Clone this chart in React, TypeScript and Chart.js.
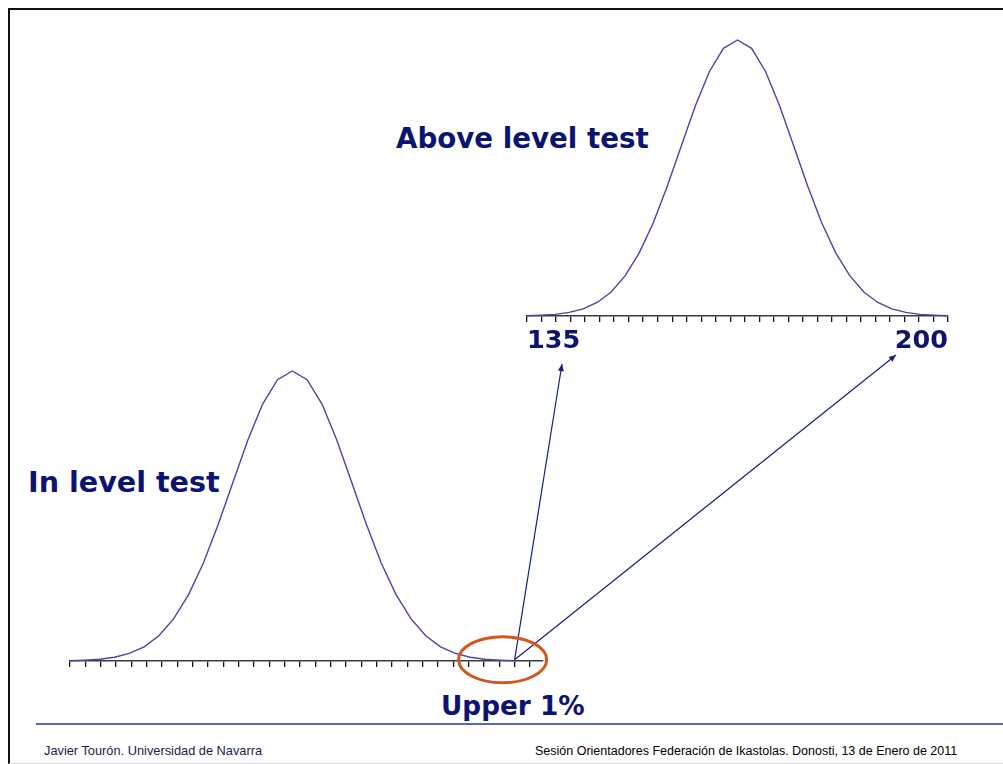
import React, { useEffect, useRef } from 'react';
import { Chart, registerables } from 'chart.js';

Chart.register(...registerables);

// ---------- data ----------
const IN_LEVEL_SCORES = [
  0, 1.93, 3.87, 5.8, 7.73, 9.67, 11.6, 13.53, 15.47, 17.4, 19.33, 21.27, 23.2, 25.13, 27.07, 29,
  30.93, 32.87, 34.8, 36.73, 38.67, 40.6, 42.53, 44.47, 46.4, 48.33, 50.27, 52.2, 54.13, 56.07, 58,
];
const IN_LEVEL_DENSITY = [
  0.1, 0.3, 0.6, 1.3, 2.6, 4.9, 8.7, 14.6, 22.9, 33.8, 47.1, 61.7, 76.2, 88.6, 97, 100,
  97, 88.6, 76.2, 61.7, 47.1, 33.8, 22.9, 14.6, 8.7, 4.9, 2.6, 1.3, 0.6, 0.3, 0.1,
];
const ABOVE_LEVEL_SCORES = [
  135, 137.17, 139.33, 141.5, 143.67, 145.83, 148, 150.17, 152.33, 154.5, 156.67, 158.83, 161, 163.17,
  165.33, 167.5, 169.67, 171.83, 174, 176.17, 178.33, 180.5, 182.67, 184.83, 187, 189.17, 191.33,
  193.5, 195.67, 197.83, 200,
];
const ABOVE_LEVEL_DENSITY = [
  0.1, 0.3, 0.6, 1.3, 2.6, 4.9, 8.7, 14.6, 22.9, 33.8, 47.1, 61.7, 76.2, 88.6, 97, 100,
  97, 88.6, 76.2, 61.7, 47.1, 33.8, 22.9, 14.6, 8.7, 4.9, 2.6, 1.3, 0.6, 0.3, 0.1,
];
const ABOVE_AXIS_RANGE = [135, 200];
const ABOVE_TICK_COUNT = 30;
const ABOVE_TICK_LABELS = ['135', '200'];
const IN_LEVEL_AXIS_RANGE = [0, 61.7];
const IN_LEVEL_TICK_STEP = 2;

const TITLE_ABOVE = 'Above level test';
const TITLE_IN = 'In level test';
const TITLE_UPPER = 'Upper 1%';
const FOOTER_LEFT = 'Javier Tourón. Universidad de Navarra';
const FOOTER_RIGHT = 'Sesión Orientadores Federación de Ikastolas. Donosti, 13 de Enero de 2011';

// ---------- styles ----------
const NAVY = '#0c1470';
const CURVE = '#4646aa';
const AXIS = '#3a3a3a';
const TICK = '#111111';
const BOLD = '"DejaVu Sans", Verdana, sans-serif';

const TOP_BOX = { left: 523, top: 36, width: 431, height: 320 };
const BOT_BOX = { left: 66, top: 367, width: 481, height: 304 };

function curveDataset(xs: number[], ys: number[]) {
  return {
    data: xs.map((x, i) => ({ x, y: ys[i] })),
    borderColor: CURVE,
    borderWidth: 1.4,
    pointRadius: 0,
    tension: 0,
    fill: false,
    clip: false as any,
  };
}

export default function App() {
  const topRef = useRef<HTMLCanvasElement>(null);
  const botRef = useRef<HTMLCanvasElement>(null);
  const overRef = useRef<HTMLCanvasElement>(null);

  useEffect(() => {
    const top = new Chart(topRef.current!, {
      type: 'line',
      data: { datasets: [curveDataset(ABOVE_LEVEL_SCORES, ABOVE_LEVEL_DENSITY)] },
      options: {
        animation: false,
        responsive: false,
        maintainAspectRatio: false,
        layout: { padding: { left: 4, right: 6, top: 4, bottom: 0 } },
        plugins: { legend: { display: false }, tooltip: { enabled: false } },
        scales: {
          x: {
            type: 'linear',
            min: ABOVE_AXIS_RANGE[0],
            max: ABOVE_AXIS_RANGE[1],
            border: { display: true, color: AXIS, width: 1.6 },
            grid: { drawOnChartArea: false, drawTicks: true, tickLength: 6, color: TICK, lineWidth: 1.3 },
            ticks: {
              count: ABOVE_TICK_COUNT,
              align: 'inner',
              autoSkip: false,
              maxRotation: 0,
              padding: 4,
              color: NAVY,
              font: { family: BOLD, weight: 'bold', size: 25.5 },
              callback: (_v: any, i: number, ticks: any[]) =>
                i === 0 ? ABOVE_TICK_LABELS[0] : i === ticks.length - 1 ? ABOVE_TICK_LABELS[1] : '',
            },
            afterFit: (s: any) => {
              s.height = 40;
            },
          } as any,
          y: { display: false, min: 0, max: 100 },
        },
      },
    });

    const bot = new Chart(botRef.current!, {
      type: 'line',
      data: { datasets: [curveDataset(IN_LEVEL_SCORES, IN_LEVEL_DENSITY)] },
      options: {
        animation: false,
        responsive: false,
        maintainAspectRatio: false,
        layout: { padding: { left: 4, right: 4, top: 4, bottom: 0 } },
        plugins: { legend: { display: false }, tooltip: { enabled: false } },
        scales: {
          x: {
            type: 'linear',
            min: IN_LEVEL_AXIS_RANGE[0],
            max: IN_LEVEL_AXIS_RANGE[1],
            border: { display: true, color: AXIS, width: 1.6 },
            grid: { drawOnChartArea: false, drawTicks: true, tickLength: 6, color: TICK, lineWidth: 1.3 },
            ticks: {
              stepSize: IN_LEVEL_TICK_STEP,
              includeBounds: false,
              autoSkip: false,
              maxRotation: 0,
              callback: () => '',
            },
            afterFit: (s: any) => {
              s.height = 10;
            },
          } as any,
          y: { display: false, min: 0, max: 100 },
        },
      },
    });

    // annotations: arrows + ellipse, anchored to chart geometry
    const oc = overRef.current!;
    const ctx = oc.getContext('2d')!;
    ctx.clearRect(0, 0, oc.width, oc.height);
    const lastI = IN_LEVEL_SCORES.length - 1;
    const sx = BOT_BOX.left + bot.scales.x.getPixelForValue(IN_LEVEL_SCORES[lastI]);
    const sy = BOT_BOX.top + bot.scales.y.getPixelForValue(IN_LEVEL_DENSITY[lastI]) - 1;
    const axisBottom = TOP_BOX.top + top.chartArea.bottom;
    const t1x = TOP_BOX.left + top.scales.x.getPixelForValue(ABOVE_AXIS_RANGE[0]) + 35;
    const t1y = axisBottom + 48;
    const t2x = TOP_BOX.left + top.scales.x.getPixelForValue(ABOVE_AXIS_RANGE[1]) - 52;
    const t2y = axisBottom + 39;

    const arrow = (x0: number, y0: number, x1: number, y1: number) => {
      ctx.strokeStyle = '#14207a';
      ctx.fillStyle = '#14207a';
      ctx.lineWidth = 1.2;
      ctx.beginPath();
      ctx.moveTo(x0, y0);
      ctx.lineTo(x1, y1);
      ctx.stroke();
      const a = Math.atan2(y1 - y0, x1 - x0);
      const L = 7, W = 3;
      ctx.beginPath();
      ctx.moveTo(x1, y1);
      ctx.lineTo(x1 - L * Math.cos(a) + W * Math.sin(a), y1 - L * Math.sin(a) - W * Math.cos(a));
      ctx.lineTo(x1 - L * Math.cos(a) - W * Math.sin(a), y1 - L * Math.sin(a) + W * Math.cos(a));
      ctx.closePath();
      ctx.fill();
    };
    arrow(sx, sy, t1x, t1y);
    arrow(sx, sy, t2x, t2y);

    ctx.strokeStyle = '#d4561b';
    ctx.lineWidth = 3;
    ctx.beginPath();
    ctx.ellipse(sx - 12, sy, 44, 23, 0, 0, Math.PI * 2);
    ctx.stroke();

    return () => {
      top.destroy();
      bot.destroy();
    };
  }, []);

  const titleStyle: React.CSSProperties = {
    position: 'absolute',
    fontFamily: BOLD,
    fontWeight: 'bold',
    lineHeight: 1,
    color: NAVY,
    whiteSpace: 'nowrap',
  };
  const footStyle: React.CSSProperties = {
    position: 'absolute',
    fontFamily: '"Liberation Sans", Arial, sans-serif',
    fontSize: 12.5,
    lineHeight: 1,
    whiteSpace: 'nowrap',
  };

  return (
    <div
      style={{
        position: 'fixed',
        left: 0,
        top: 0,
        width: 1003,
        height: 764,
        overflow: 'hidden',
        background: '#fff',
      }}
    >
      <div
        style={{
          position: 'absolute',
          left: 8,
          top: 8,
          width: 1100,
          height: 753,
          borderLeft: '2px solid #111',
          borderTop: '2px solid #111',
          borderBottom: '1px solid #d6d6d6',
        }}
      />
      <div style={{ ...titleStyle, fontSize: 27.7, left: 396, top: 125 }}>{TITLE_ABOVE}</div>
      <div style={{ ...titleStyle, fontSize: 28.6, left: 28, top: 468 }}>{TITLE_IN}</div>
      <div style={{ ...titleStyle, fontSize: 26.3, left: 441, top: 693 }}>{TITLE_UPPER}</div>
      <div
        style={{
          position: 'absolute',
          left: 36,
          top: 723,
          width: 1000,
          height: 2,
          background: '#5a68b0',
        }}
      />
      <div style={{ ...footStyle, fontSize: 12.8, left: 44, top: 745, color: '#1c1c4c' }}>{FOOTER_LEFT}</div>
      <div style={{ ...footStyle, left: 535, top: 745, color: '#000' }}>{FOOTER_RIGHT}</div>
      <canvas
        ref={topRef}
        width={TOP_BOX.width}
        height={TOP_BOX.height}
        style={{ position: 'absolute', left: TOP_BOX.left, top: TOP_BOX.top, width: TOP_BOX.width, height: TOP_BOX.height }}
      />
      <canvas
        ref={botRef}
        width={BOT_BOX.width}
        height={BOT_BOX.height}
        style={{ position: 'absolute', left: BOT_BOX.left, top: BOT_BOX.top, width: BOT_BOX.width, height: BOT_BOX.height }}
      />
      <canvas
        ref={overRef}
        width={1003}
        height={764}
        style={{ position: 'absolute', left: 0, top: 0, width: 1003, height: 764, pointerEvents: 'none' }}
      />
    </div>
  );
}
